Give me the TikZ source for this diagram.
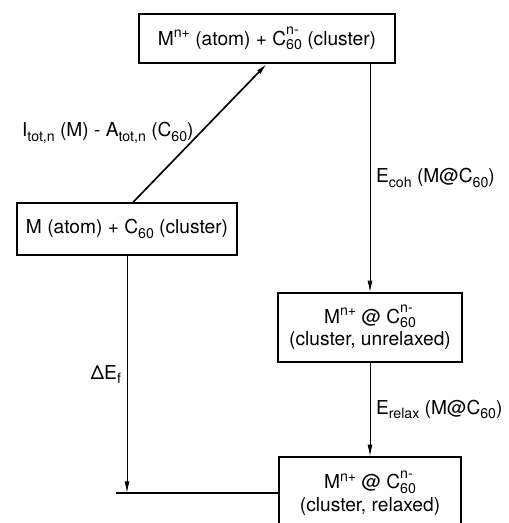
\documentclass[tikz,border=0pt]{standalone}
\usepackage{fontspec}
\setmainfont{TeX Gyre Heros}
\usetikzlibrary{arrows.meta}
\newcommand{\subsc}[1]{\raisebox{-0.45ex}{\fontsize{8.5}{9}\selectfont #1}}
\newcommand{\supsc}[1]{\raisebox{0.75ex}{\fontsize{8.5}{9}\selectfont #1}}
\newcommand{\ionsc}[2]{\rlap{\raisebox{1.05ex}{\fontsize{8.5}{9}\selectfont #1}}\subsc{#2}}

\begin{document}
\begin{tikzpicture}[x=0.6pt,y=-0.6pt,
        mybox/.style={
            draw=black,
            line width=0.8pt,
            inner sep=2pt,
            align=center,
            font=\fontsize{11.5}{13.5}\selectfont},
        mylabel/.style={font=\fontsize{11.5}{13.5}\selectfont},
        myarrow/.style={-{Latex[length=7pt,width=3pt]},line width=0.6pt}
        ]
        \useasboundingbox (0,0) rectangle (509,523);
        \node[mybox,minimum width=153.6pt,minimum height=29.4pt] (c1) at (267,38.5)
            {M\supsc{n+} (atom) + C\ionsc{n-}{60} (cluster)};
        \node[mybox,minimum width=132pt,minimum height=31.2pt] (c2) at (127,229)
            {M (atom) + C\subsc{60} (cluster)};
        \node[mybox,minimum width=110.4pt,minimum height=41.4pt] (c3) at (370,327.5)
            {M\supsc{n+} @ C\ionsc{n-}{60}\\(cluster, unrelaxed)};
        \node[mybox,minimum width=109.2pt,minimum height=43.2pt] (c4) at (370,493)
            {M\supsc{n+} @ C\ionsc{n-}{60}\\(cluster, relaxed)};
        \coordinate (c5) at (116,493);

        % ionisation step
        \draw[myarrow,line width=1pt] ([xshift=3.6pt]c2.north) --
            node[mylabel,left] {I\subsc{tot,n} (M) - A\subsc{tot,n} (C\subsc{60})} (c1.south);
        \draw[myarrow] (c1.south -| c3.north) --
            node[mylabel,right] {E\subsc{coh} (M@C\subsc{60})} (c3.north);
        \draw[myarrow] (c3) --
            node[mylabel,right] {E\subsc{relax} (M@C\subsc{60})} (c4);
        \draw[myarrow] (c2.south) --
            node[mylabel,left] {ΔE\subsc{f}} (c2.south |- c4.west);
        \draw[line width=0.8pt] (c5) -- (c4.west);
\end{tikzpicture}
\end{document}
